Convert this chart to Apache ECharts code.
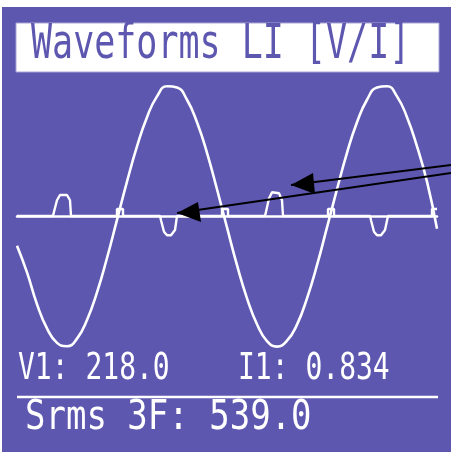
<!DOCTYPE html>
<html>
<head>
<meta charset="utf-8">
<script src="https://cdn.jsdelivr.net/npm/echarts@6/dist/echarts.min.js"></script>
<style>
  html, body { margin: 0; padding: 0; background: #fff; }
  #main { width: 451px; height: 457px; }
</style>
</head>
<body>
<div id="main"></div>
<script>
// voltage trace, sampled every 10 units along the screen
const voltTime = [0, 10, 20, 30, 40, 50, 60, 70, 80, 90, 100, 110, 120, 130, 140, 150, 160, 170, 180, 190, 200,
  210, 220, 230, 240, 250, 260, 270, 280, 290, 300, 310, 320, 330, 340, 350, 360, 370, 380, 390, 400, 410, 420]
const voltValues = [-70, -133, -208, -265, -299, -307, -289, -245, -180, -99, -9, 81, 164, 233, 282, 306, 303, 274, 221, 149, 63,
  -27, -116, -194, -255, -295, -308, -294, -256, -194, -116, -27, 63, 149, 221, 274, 303, 306, 282, 233, 164, 81, -30]

// current trace (pulses + small blips at the voltage zero crossings)
const curTime = [0, 36, 37, 40, 43, 50, 53, 54, 100, 100, 106, 106, 143, 144, 147, 150, 154, 158, 160,
  205, 205, 211, 211, 248, 249, 252, 255, 262, 265, 266, 311, 311, 317, 317,
  353, 354, 357, 360, 364, 368, 371, 415, 415, 420]
const curValues = [0, 0, 0.12, 0.45, 0.6, 0.6, 0.45, 0, 0, 0.2, 0.2, 0, 0, -0.12, -0.45, -0.55, -0.55, -0.4, 0,
  0, 0.2, 0.2, 0, 0, 0.12, 0.5, 0.68, 0.65, 0.45, 0, 0, 0.2, 0.2, 0,
  0, -0.12, -0.45, -0.55, -0.55, -0.4, 0, 0, 0.2, 0.2]

const titleText = 'Waveforms LI [V/I]'
const voltLabel = 'V1: 218.0'
const curLabel = 'I1: 0.834'
const powerLabel = 'Srms 3F: 539.0'

const purple = '#5d57b0'
const mono = '"DejaVu Sans Mono", monospace'

const chart = echarts.init(document.getElementById('main'))

function lcdText (text, x, y, size, sy, fill) {
  return {
    type: 'text',
    x: x,
    y: y,
    scaleY: sy,
    z: 10,
    style: {
      text: text,
      font: size + 'px ' + mono,
      fill: fill,
      textAlign: 'left',
      textVerticalAlign: 'middle'
    }
  }
}

function arrow (x1, y1, tip, b1, b2) {
  return [
    { type: 'line', z: 20, shape: { x1: x1, y1: y1, x2: tip[0], y2: tip[1] }, style: { stroke: '#000', lineWidth: 2 } },
    { type: 'polygon', z: 21, shape: { points: [tip, b1, b2] }, style: { fill: '#000' } }
  ]
}

chart.setOption({
  backgroundColor: '#fff',
  animation: false,
  grid: { left: 17, right: 14, top: 76, height: 280 },
  xAxis: {
    type: 'value',
    min: 0,
    max: 420,
    axisLine: { show: true, onZero: true, lineStyle: { color: '#fff', width: 2.5 } },
    axisTick: { show: false },
    axisLabel: { show: false },
    splitLine: { show: false }
  },
  yAxis: [
    { type: 'value', min: -330, max: 330, show: false },
    { type: 'value', min: -4, max: 4, show: false }
  ],
  series: [
    {
      name: 'V1',
      type: 'line',
      yAxisIndex: 0,
      smooth: true,
      symbol: 'none',
      lineStyle: { color: '#fff', width: 2.6 },
      data: voltTime.map((t, i) => [t, voltValues[i]])
    },
    {
      name: 'I1',
      type: 'line',
      yAxisIndex: 1,
      symbol: 'none',
      lineStyle: { color: '#fff', width: 2.4 },
      data: curTime.map((t, i) => [t, curValues[i]])
    }
  ],
  graphic: [
    { type: 'rect', z: -100, shape: { x: 2, y: 7, width: 449, height: 445 }, style: { fill: purple } },
    { type: 'rect', z: 5, shape: { x: 16, y: 23, width: 423, height: 49 }, style: { fill: '#fff', stroke: '#aaa6d8', lineWidth: 1 } },
    lcdText(titleText, 31, 46, 35, 1.35, purple),
    lcdText(voltLabel, 18, 369, 28, 1.32, '#fff'),
    lcdText(curLabel, 238, 369, 28, 1.32, '#fff'),
    { type: 'line', z: 5, shape: { x1: 17, y1: 397, x2: 438, y2: 397 }, style: { stroke: '#fff', lineWidth: 2.5 } },
    lcdText(powerLabel, 25, 418, 34, 1.22, '#fff'),
    ...arrow(451, 165, [291, 185], [313, 173], [315, 194]),
    ...arrow(451, 173, [177, 213], [198, 202], [201, 222])
  ]
})
</script>
</body>
</html>
